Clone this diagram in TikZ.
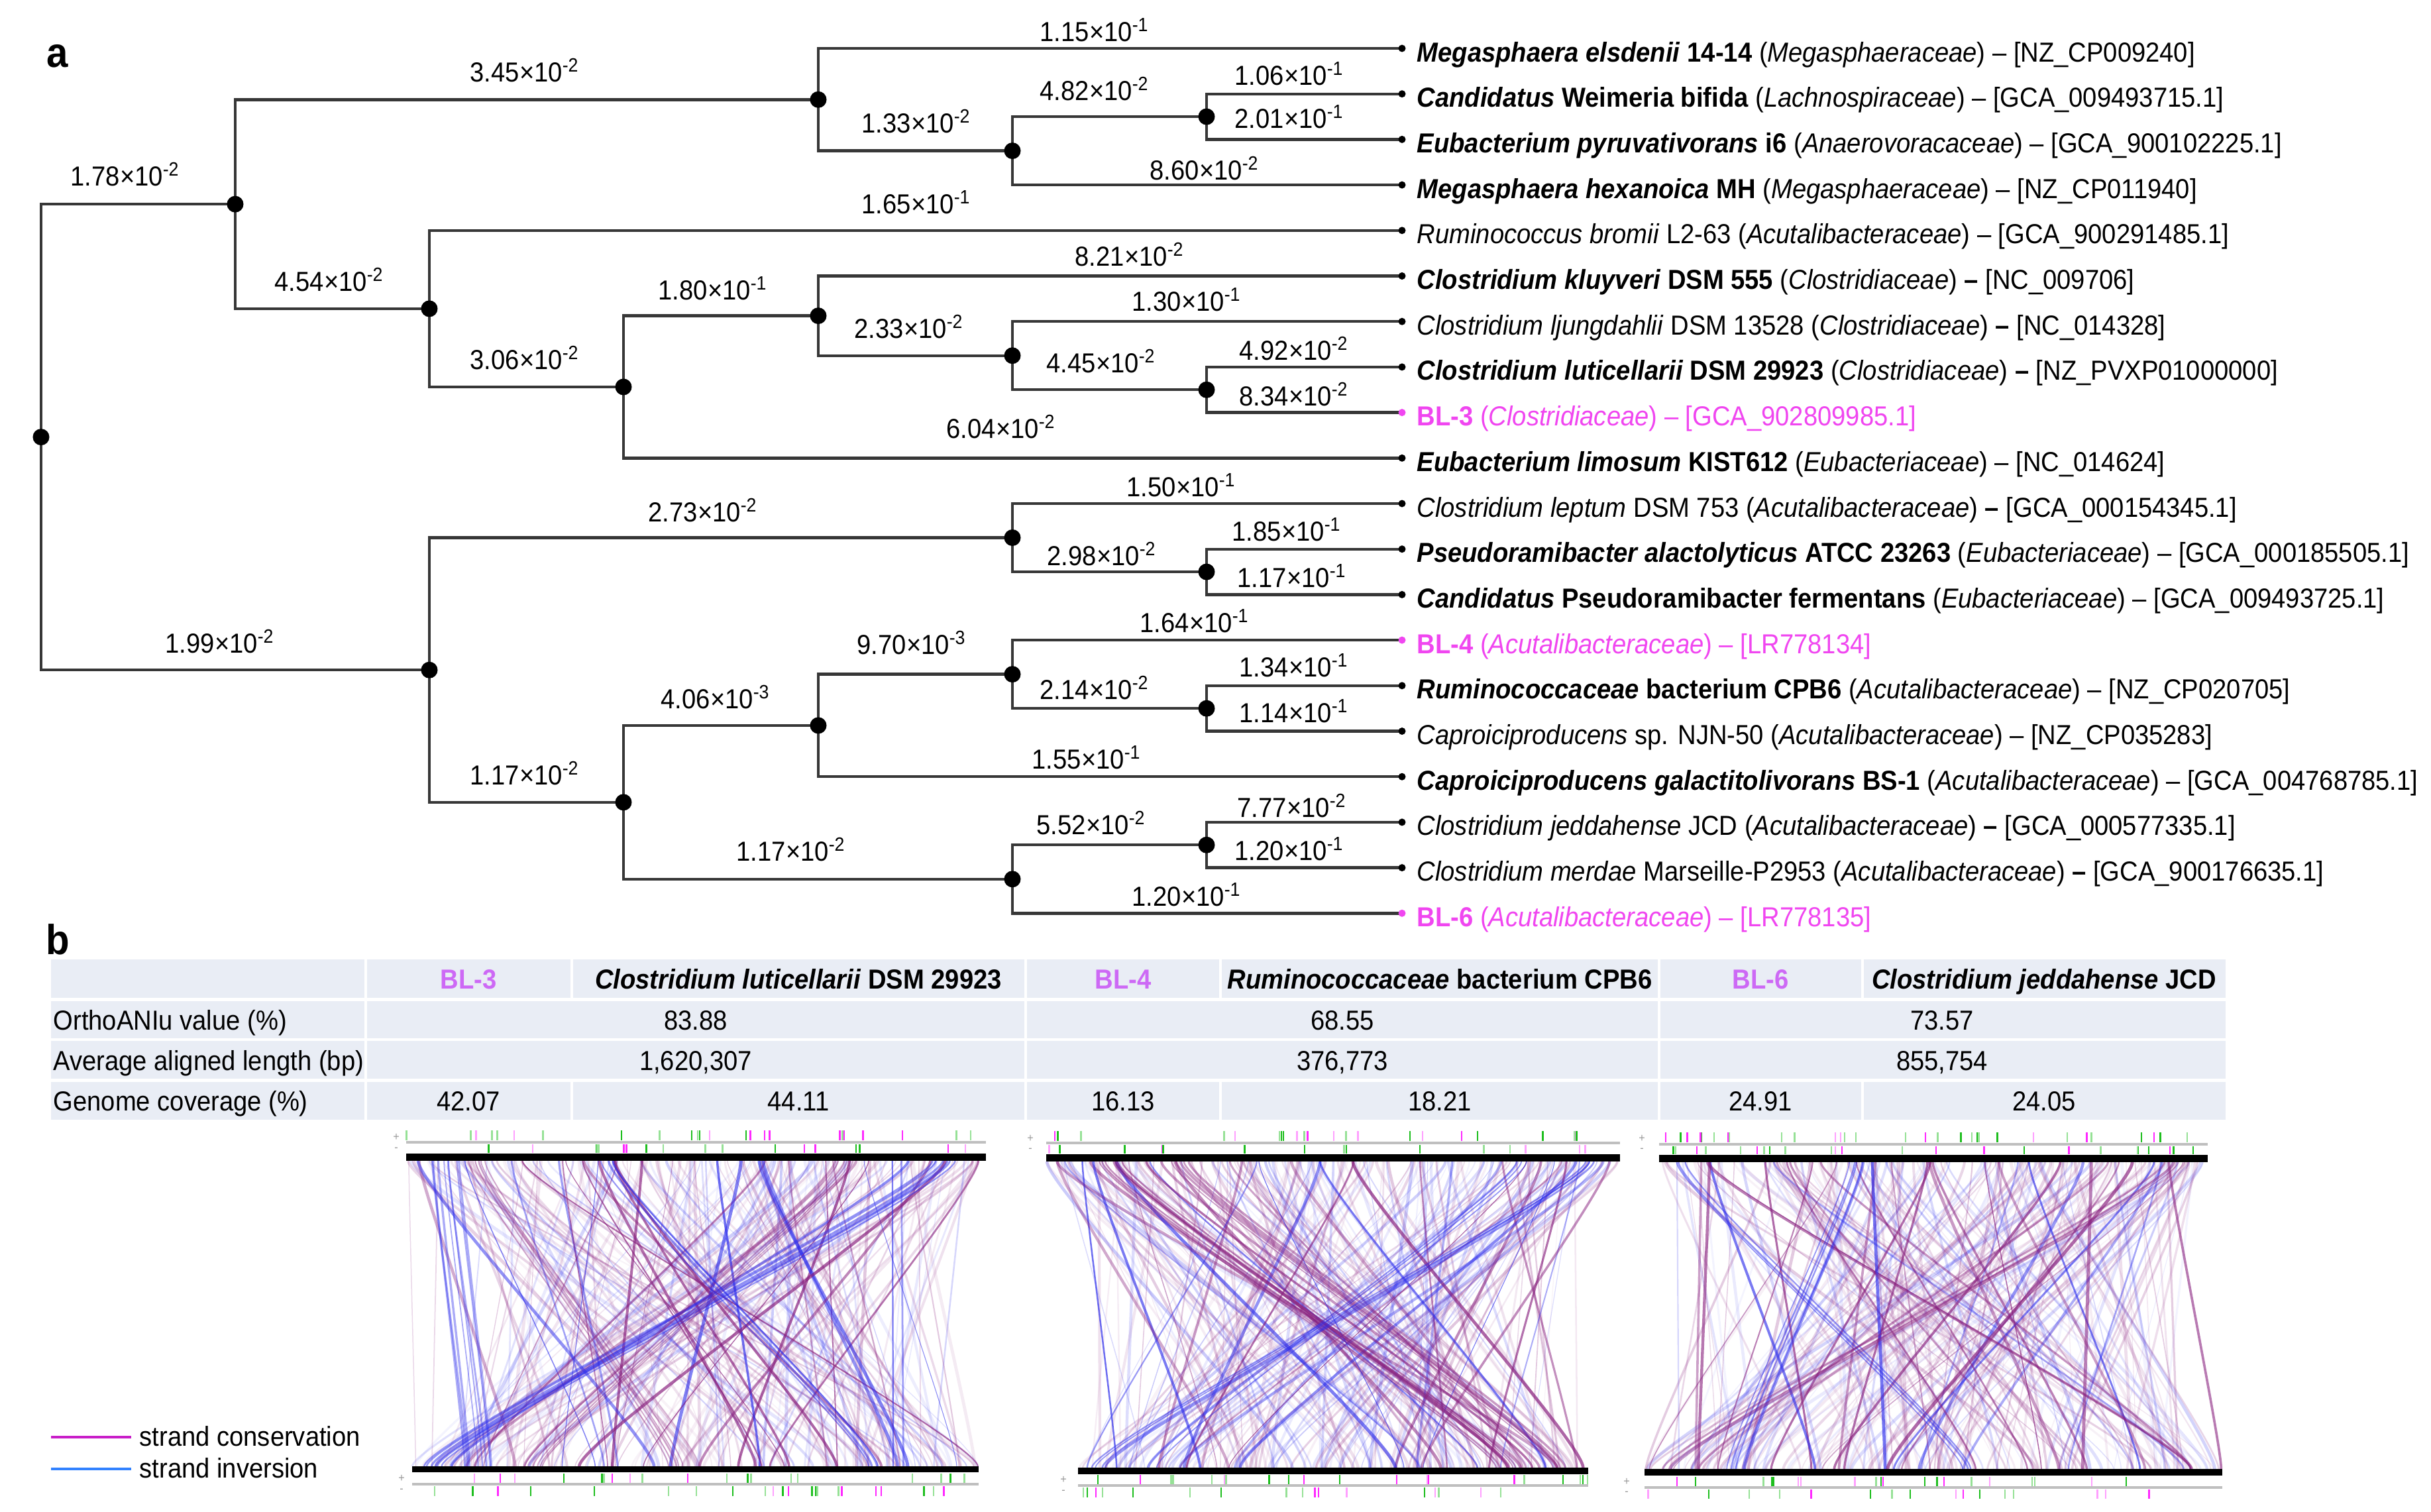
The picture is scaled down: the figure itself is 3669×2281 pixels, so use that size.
\documentclass[tikz,border=0pt]{standalone}
\usepackage{fontspec}
\setmainfont{Liberation Sans}[FakeStretch=0.92]
\definecolor{blmag}{RGB}{240,70,240}
\definecolor{blvio}{RGB}{205,105,245}
\definecolor{tblfill}{RGB}{233,237,245}
\definecolor{brc}{RGB}{55,55,55}
\definecolor{synp}{RGB}{135,30,125}
\definecolor{synb}{RGB}{45,45,235}
\definecolor{tkg}{RGB}{30,190,30}
\definecolor{tklg}{RGB}{150,225,150}
\definecolor{tkm}{RGB}{255,40,255}
\definecolor{tkp}{RGB}{255,160,255}
\definecolor{legm}{RGB}{200,30,200}
\definecolor{legb}{RGB}{50,130,255}
\newcommand\brl[2]{#1×10\textsuperscript{-#2}}
\newcommand\fml[1]{\textit{#1}}
% synteny lines: #1 xtl #2 xtr #3 yt #4 xbl #5 xbr #6 yb #7 count #8 opacity base #9 opacity span
\newcommand\synlines[9]{%
 \foreach \i in {1,...,#7}{%
  \pgfmathsetmacro\syA{#1+(#2-#1)*rnd}%
  \pgfmathsetmacro\syB{#4+(#5-#4)*rnd}%
  \pgfmathsetmacro\syC{rnd}%
  \pgfmathsetmacro\syO{#8+#9*rnd}%
  \pgfmathsetmacro\syW{0.3+1.1*rnd}%
  \ifdim\syC pt<0.6pt\def\syCol{synp}\else\def\syCol{synb}\fi
  \draw[\syCol, line width=\syW pt, opacity=\syO] (\syA,#3) .. controls (\syA,#3+40) and (\syB,#6-40) .. (\syB,#6);
 }}
% bundle: #1 xt #2 yt #3 xb #4 yb #5 color #6 count #7 opacity
\newcommand\bundle[7]{%
 \foreach \k in {1,...,#6}{%
  \pgfmathsetmacro\buA{#1+\k*6+8*rnd}%
  \pgfmathsetmacro\buB{#3+\k*6+8*rnd}%
  \pgfmathsetmacro\buW{0.4+0.6*rnd}%
  \draw[#5, line width=\buW pt, opacity=#7] (\buA,#2) .. controls (\buA,#2+40) and (\buB,#4-40) .. (\buB,#4);
 }}
% ticks: #1 x1 #2 x2 #3 y1 #4 y2 #5 count
\newcommand\tickrow[5]{%
 \foreach \i in {1,...,#5}{%
  \pgfmathsetmacro\tkX{#1+(#2-#1)*rnd}%
  \pgfmathsetmacro\tkC{rnd}%
  \ifdim\tkC pt<0.3pt\def\tkCol{tkg}\else\ifdim\tkC pt<0.62pt\def\tkCol{tklg}\else\ifdim\tkC pt<0.82pt\def\tkCol{tkm}\else\def\tkCol{tkp}\fi\fi\fi
  \draw[\tkCol, line width=0.7pt] (\tkX,#3) -- (\tkX,#4);
 }}
\begin{document}
\begin{tikzpicture}[x=0.01cm,y=-0.01cm,
  br/.style={draw=brc, line width=1.25pt},
  txt/.style={inner sep=0pt, font=\fontsize{11.8pt}{14pt}\selectfont},
  bl/.style={txt, anchor=center},
  lf/.style={txt, anchor=base west},
  cell/.style={txt, anchor=base},
  rowlab/.style={txt, anchor=base west},
  panel/.style={inner sep=0pt, font=\fontsize{18pt}{20pt}\selectfont\bfseries, anchor=base},
  pm/.style={inner sep=0pt, font=\fontsize{5pt}{5pt}\selectfont, text=black!40}
  ]
\useasboundingbox (0,0) rectangle (3669,2281);

% ---------------- panel labels
\node[panel] (pa) at (87,101) {a};
\node[panel] (pb) at (87,1440) {b};

% ---------------- tree coordinates
\foreach \k in {0,...,19} \coordinate (l\k) at (2116,{73+68.7*\k});
\coordinate (n482) at (1821,176.05);
\coordinate (n133) at (1528,227.6);
\coordinate (nMega) at (1235,150.3);
\coordinate (nF) at (1821,588.25);
\coordinate (nE) at (1528,536.7);
\coordinate (nD) at (1235,476.6);
\coordinate (nC) at (941,583.95);
\coordinate (nB) at (648,465.9);
\coordinate (nA) at (355,308.1);
\coordinate (nI) at (1821,863.05);
\coordinate (nH) at (1528,811.5);
\coordinate (nM) at (1821,1069.15);
\coordinate (nL) at (1528,1017.6);
\coordinate (nK) at (1235,1094.9);
\coordinate (nO) at (1821,1275.25);
\coordinate (nN) at (1528,1326.8);
\coordinate (nJ) at (941,1210.85);
\coordinate (nG) at (648,1011.2);
\coordinate (root) at (62,659.6);

% ---------------- tree branches
\draw[br] (root) |- (nA);
\draw[br] (root) |- (nG);
\draw[br] (nA) |- (nMega);
\draw[br] (nA) |- (nB);
\draw[br] (nMega) |- (l0);
\draw[br] (nMega) |- (n133);
\draw[br] (n133) |- (n482);
\draw[br] (n133) |- (l3);
\draw[br] (n482) |- (l1);
\draw[br] (n482) |- (l2);
\draw[br] (nB) |- (l4);
\draw[br] (nB) |- (nC);
\draw[br] (nC) |- (nD);
\draw[br] (nC) |- (l9);
\draw[br] (nD) |- (l5);
\draw[br] (nD) |- (nE);
\draw[br] (nE) |- (l6);
\draw[br] (nE) |- (nF);
\draw[br] (nF) |- (l7);
\draw[br] (nF) |- (l8);
\draw[br] (nG) |- (nH);
\draw[br] (nG) |- (nJ);
\draw[br] (nH) |- (l10);
\draw[br] (nH) |- (nI);
\draw[br] (nI) |- (l11);
\draw[br] (nI) |- (l12);
\draw[br] (nJ) |- (nK);
\draw[br] (nJ) |- (nN);
\draw[br] (nK) |- (nL);
\draw[br] (nK) |- (l16);
\draw[br] (nL) |- (l13);
\draw[br] (nL) |- (nM);
\draw[br] (nM) |- (l14);
\draw[br] (nM) |- (l15);
\draw[br] (nN) |- (nO);
\draw[br] (nN) |- (l19);
\draw[br] (nO) |- (l17);
\draw[br] (nO) |- (l18);

% dots
\foreach \n in {root,nA,nB,nC,nD,nE,nF,nG,nH,nI,nJ,nK,nL,nM,nN,nO,nMega,n133,n482}
  \fill (\n) circle[radius=0.125cm];
\foreach \k in {0,1,2,3,4,5,6,7,9,10,11,12,14,15,16,17,18}
  \fill (l\k) circle[radius=0.055cm];
\foreach \k in {8,13,19}
  \fill[blmag] (l\k) circle[radius=0.055cm];

% ---------------- branch labels
\node[bl] (b0) at (1652,45) {\brl{1.15}{1}};
\node[bl] (b1) at (1946,111) {\brl{1.06}{1}};
\node[bl] (b2) at (1652,134) {\brl{4.82}{2}};
\node[bl] (b3) at (1383,183) {\brl{1.33}{2}};
\node[bl] (b4) at (1946,176) {\brl{2.01}{1}};
\node[bl] (b5) at (1818,254) {\brl{8.60}{2}};
\node[bl] (b6) at (792,106) {\brl{3.45}{2}};
\node[bl] (b7) at (189,263) {\brl{1.78}{2}};
\node[bl] (b8) at (1383,305) {\brl{1.65}{1}};
\node[bl] (b9) at (497,422) {\brl{4.54}{2}};
\node[bl] (b10) at (1705,384) {\brl{8.21}{2}};
\node[bl] (b11) at (1076,435) {\brl{1.80}{1}};
\node[bl] (b12) at (1791,452) {\brl{1.30}{1}};
\node[bl] (b13) at (1372,493) {\brl{2.33}{2}};
\node[bl] (b14) at (1953,526) {\brl{4.92}{2}};
\node[bl] (b15) at (1662,545) {\brl{4.45}{2}};
\node[bl] (b16) at (1953,595) {\brl{8.34}{2}};
\node[bl] (b17) at (792,540) {\brl{3.06}{2}};
\node[bl] (b18) at (1511,644) {\brl{6.04}{2}};
\node[bl] (b19) at (1061,770) {\brl{2.73}{2}};
\node[bl] (b20) at (1783,732) {\brl{1.50}{1}};
\node[bl] (b21) at (1942,799) {\brl{1.85}{1}};
\node[bl] (b22) at (1663,836) {\brl{2.98}{2}};
\node[bl] (b23) at (1950,869) {\brl{1.17}{1}};
\node[bl] (b24) at (332,968) {\brl{1.99}{2}};
\node[bl] (b25) at (1803,937) {\brl{1.64}{1}};
\node[bl] (b26) at (1376,970) {\brl{9.70}{3}};
\node[bl] (b27) at (1953,1004) {\brl{1.34}{1}};
\node[bl] (b28) at (1652,1038) {\brl{2.14}{2}};
\node[bl] (b29) at (1953,1073) {\brl{1.14}{1}};
\node[bl] (b30) at (1080,1052) {\brl{4.06}{3}};
\node[bl] (b31) at (1640,1143) {\brl{1.55}{1}};
\node[bl] (b32) at (792,1167) {\brl{1.17}{2}};
\node[bl] (b33) at (1950,1216) {\brl{7.77}{2}};
\node[bl] (b34) at (1647,1242) {\brl{5.52}{2}};
\node[bl] (b35) at (1946,1281) {\brl{1.20}{1}};
\node[bl] (b36) at (1194,1282) {\brl{1.17}{2}};
\node[bl] (b37) at (1791,1350) {\brl{1.20}{1}};

% ---------------- leaf labels
\node[lf] (t0) at (2138,93) {\textbf{\textit{Megasphaera elsdenii} 14-14} (\fml{Megasphaeraceae}) – [NZ\_CP009240]};
\node[lf] (t1) at (2138,161.7) {\textbf{\textit{Candidatus} Weimeria bifida} (\fml{Lachnospiraceae}) – [GCA\_009493715.1]};
\node[lf] (t2) at (2138,230.4) {\textbf{\textit{Eubacterium pyruvativorans} i6} (\fml{Anaerovoracaceae}) – [GCA\_900102225.1]};
\node[lf] (t3) at (2138,299.1) {\textbf{\textit{Megasphaera hexanoica} MH} (\fml{Megasphaeraceae}) – [NZ\_CP011940]};
\node[lf] (t4) at (2138,367.8) {\textit{Ruminococcus bromii} L2-63 (\fml{Acutalibacteraceae}) – [GCA\_900291485.1]};
\node[lf] (t5) at (2138,436.5) {\textbf{\textit{Clostridium kluyveri} DSM 555} (\fml{Clostridiaceae}) \textbf{–} [NC\_009706]};
\node[lf] (t6) at (2138,505.2) {\textit{Clostridium ljungdahlii} DSM 13528 (\fml{Clostridiaceae}) \textbf{–} [NC\_014328]};
\node[lf] (t7) at (2138,573.9) {\textbf{\textit{Clostridium luticellarii} DSM 29923} (\fml{Clostridiaceae}) \textbf{–} [NZ\_PVXP01000000]};
\node[lf, text=blmag] (t8) at (2138,642.6) {\textbf{BL-3} (\fml{Clostridiaceae}) – [GCA\_902809985.1]};
\node[lf] (t9) at (2138,711.3) {\textbf{\textit{Eubacterium limosum} KIST612} (\fml{Eubacteriaceae}) – [NC\_014624]};
\node[lf] (t10) at (2138,780) {\textit{Clostridium leptum} DSM 753 (\fml{Acutalibacteraceae}) \textbf{–} [GCA\_000154345.1]};
\node[lf] (t11) at (2138,848.7) {\textbf{\textit{Pseudoramibacter alactolyticus} ATCC 23263} (\fml{Eubacteriaceae}) – [GCA\_000185505.1]};
\node[lf] (t12) at (2138,917.4) {\textbf{\textit{Candidatus} Pseudoramibacter fermentans} (\fml{Eubacteriaceae}) – [GCA\_009493725.1]};
\node[lf, text=blmag] (t13) at (2138,986.1) {\textbf{BL-4} (\fml{Acutalibacteraceae}) – [LR778134]};
\node[lf] (t14) at (2138,1054.8) {\textbf{\textit{Ruminococcaceae} bacterium CPB6} (\fml{Acutalibacteraceae}) – [NZ\_CP020705]};
\node[lf] (t15) at (2138,1123.5) {\textit{Caproiciproducens} sp. NJN-50 (\fml{Acutalibacteraceae}) – [NZ\_CP035283]};
\node[lf] (t16) at (2138,1192.2) {\textbf{\textit{Caproiciproducens galactitolivorans} BS-1} (\fml{Acutalibacteraceae}) – [GCA\_004768785.1]};
\node[lf] (t17) at (2138,1260.9) {\textit{Clostridium jeddahense} JCD (\fml{Acutalibacteraceae}) \textbf{–} [GCA\_000577335.1]};
\node[lf] (t18) at (2138,1329.6) {\textit{Clostridium merdae} Marseille-P2953 (\fml{Acutalibacteraceae}) \textbf{–} [GCA\_900176635.1]};
\node[lf, text=blmag] (t19) at (2138,1398.3) {\textbf{BL-6} (\fml{Acutalibacteraceae}) – [LR778135]};

% ---------------- table
\foreach \ya/\yb in {1448/1506,1511/1567,1571/1628,1633/1690}
  \fill[tblfill] (77,\ya) rectangle (3359,\yb);
\foreach \xx in {552,863,1548,1842,2504,2811} {
  \draw[white, line width=1pt] (\xx,1448) -- (\xx,1506);
  \draw[white, line width=1pt] (\xx,1633) -- (\xx,1690);
}
\foreach \xx in {552,1548,2504}
  \draw[white, line width=1pt] (\xx,1511) -- (\xx,1628);

\node[cell, text=blvio] (h1) at (707,1492) {\textbf{BL-3}};
\node[cell] (h2) at (1205,1492) {\textbf{\textit{Clostridium luticellarii} DSM 29923}};
\node[cell, text=blvio] (h3) at (1695,1492) {\textbf{BL-4}};
\node[cell] (h4) at (2173,1492) {\textbf{\textit{Ruminococcaceae} bacterium CPB6}};
\node[cell, text=blvio] (h5) at (2657,1492) {\textbf{BL-6}};
\node[cell] (h6) at (3085,1492) {\textbf{\textit{Clostridium jeddahense} JCD}};

\node[rowlab] (r1) at (80,1554) {OrthoANIu value (\%)};
\node[cell] (r1a) at (1050,1554) {83.88};
\node[cell] (r1b) at (2026,1554) {68.55};
\node[cell] (r1c) at (2931,1554) {73.57};

\node[rowlab] (r2) at (80,1615) {Average aligned length (bp)};
\node[cell] (r2a) at (1050,1615) {1,620,307};
\node[cell] (r2b) at (2026,1615) {376,773};
\node[cell] (r2c) at (2931,1615) {855,754};

\node[rowlab] (r3) at (80,1676) {Genome coverage (\%)};
\node[cell] (r3a) at (707,1676) {42.07};
\node[cell] (r3b) at (1205,1676) {44.11};
\node[cell] (r3c) at (1695,1676) {16.13};
\node[cell] (r3d) at (2173,1676) {18.21};
\node[cell] (r3e) at (2657,1676) {24.91};
\node[cell] (r3f) at (3085,1676) {24.05};

% ---------------- synteny panels
\pgfmathsetseed{1234}
% panel 1
\synlines{613}{1488}{1752}{622}{1477}{2213}{190}{0.05}{0.2}
\synlines{613}{1488}{1752}{622}{1477}{2213}{35}{0.35}{0.35}
\bundle{1400}{1752}{630}{2213}{synb}{6}{0.5}
\bundle{640}{1752}{690}{2213}{synb}{8}{0.4}
\bundle{1250}{1752}{780}{2213}{synp}{6}{0.4}
\bundle{700}{1752}{1000}{2213}{synp}{5}{0.4}
\bundle{900}{1752}{1300}{2213}{synb}{4}{0.5}
% panel 2
\synlines{1579}{2445}{1753}{1627}{2397}{2215}{190}{0.05}{0.2}
\synlines{1579}{2445}{1753}{1627}{2397}{2215}{35}{0.35}{0.35}
\bundle{1650}{1753}{2250}{2215}{synp}{6}{0.5}
\bundle{1760}{1753}{2330}{2215}{synp}{5}{0.45}
\bundle{2380}{1753}{1640}{2215}{synb}{4}{0.5}
\bundle{2280}{1753}{1720}{2215}{synb}{3}{0.5}
% panel 3
\synlines{2504}{3332}{1754}{2482}{3354}{2217}{190}{0.05}{0.2}
\synlines{2504}{3332}{1754}{2482}{3354}{2217}{35}{0.35}{0.35}
\bundle{2780}{1754}{2600}{2217}{synb}{5}{0.5}
\bundle{2520}{1754}{2950}{2217}{synb}{3}{0.5}
\bundle{3260}{1754}{2500}{2217}{synp}{4}{0.45}

% tracks panel 1
\draw[black!25, line width=1.3pt] (613,1724) -- (1488,1724);
\tickrow{613}{1488}{1706}{1721}{24}
\tickrow{613}{1488}{1727}{1740}{18}
\fill[black] (613,1741) rectangle (1488,1752);
\fill[black] (622,2213) rectangle (1477,2222);
\tickrow{622}{1477}{2224}{2238}{20}
\draw[black!25, line width=1.3pt] (622,2240) -- (1477,2240);
\tickrow{622}{1477}{2243}{2258}{22}
% tracks panel 2
\draw[black!25, line width=1.3pt] (1579,1725) -- (2445,1725);
\tickrow{1579}{2445}{1707}{1722}{22}
\tickrow{1579}{2445}{1728}{1741}{15}
\fill[black] (1579,1742) rectangle (2445,1753);
\fill[black] (1627,2215) rectangle (2397,2225);
\tickrow{1627}{2397}{2226}{2240}{20}
\draw[black!25, line width=1.3pt] (1627,2242) -- (2397,2242);
\tickrow{1627}{2397}{2245}{2260}{18}
% tracks panel 3
\draw[black!25, line width=1.3pt] (2504,1727) -- (3332,1727);
\tickrow{2504}{3332}{1709}{1724}{30}
\tickrow{2504}{3332}{1730}{1742}{24}
\fill[black] (2504,1743) rectangle (3332,1754);
\fill[black] (2482,2217) rectangle (3354,2227);
\tickrow{2482}{3354}{2229}{2243}{20}
\draw[black!25, line width=1.3pt] (2482,2245) -- (3354,2245);
\tickrow{2482}{3354}{2248}{2262}{16}

% strand marks
\node[pm] (p1a) at (598,1716) {+};
\node[pm] (p1b) at (598,1735) {-};
\node[pm] (p1c) at (606,2231) {+};
\node[pm] (p1d) at (606,2250) {-};
\node[pm] (p2a) at (1555,1718) {+};
\node[pm] (p2b) at (1555,1736) {-};
\node[pm] (p2c) at (1605,2233) {+};
\node[pm] (p2d) at (1605,2252) {-};
\node[pm] (p3a) at (2478,1718) {+};
\node[pm] (p3b) at (2478,1736) {-};
\node[pm] (p3c) at (2455,2236) {+};
\node[pm] (p3d) at (2455,2254) {-};

% ---------------- legend
\coordinate (lg1a) at (77,2169);
\coordinate (lg1b) at (198,2169);
\coordinate (lg2a) at (77,2217);
\coordinate (lg2b) at (198,2217);
\draw[legm, line width=1.4pt] (lg1a) -- (lg1b);
\draw[legb, line width=1.4pt] (lg2a) -- (lg2b);
\node[rowlab] (lgt1) at (210,2182) {strand conservation};
\node[rowlab] (lgt2) at (210,2230) {strand inversion};
\end{tikzpicture}
\end{document}
